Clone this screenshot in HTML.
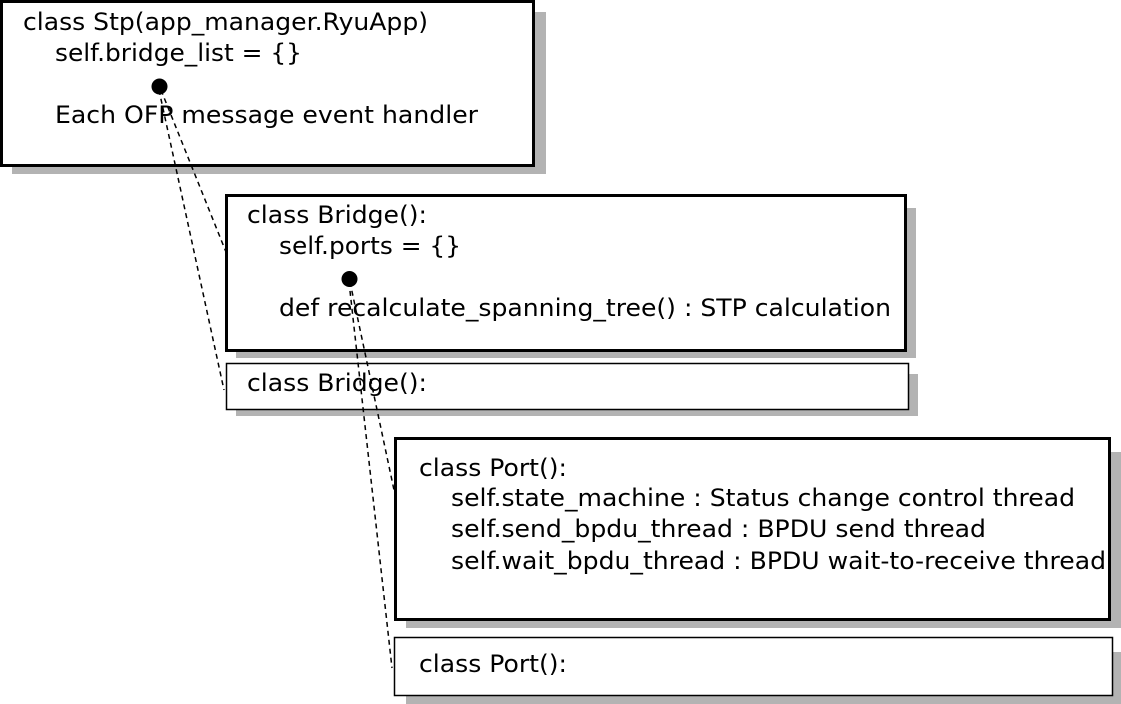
<!DOCTYPE html>
<html><head><meta charset="utf-8"><style>
html,body{margin:0;padding:0;background:#fff;}
svg{display:block;}
text{font-family:"DejaVu Sans","Liberation Sans",sans-serif;font-size:24px;fill:#000;}
</style></head><body>
<svg width="1121" height="704" viewBox="0 0 1121 704">
<rect width="1121" height="704" fill="#fff"/>
<rect x="12" y="12" width="534" height="162" fill="#b3b3b3"/>
<rect x="236" y="208" width="680" height="150" fill="#b3b3b3"/>
<rect x="236" y="374" width="682" height="42" fill="#b3b3b3"/>
<rect x="406" y="452" width="715" height="176" fill="#b3b3b3"/>
<rect x="406" y="652" width="715" height="52" fill="#b3b3b3"/>
<rect x="1.5" y="1.5" width="532" height="164" fill="#fff" stroke="#000" stroke-width="3"/>
<rect x="226.5" y="195.5" width="679" height="155" fill="#fff" stroke="#000" stroke-width="3"/>
<rect x="226.5" y="363.5" width="682" height="46" fill="#fff" stroke="#000" stroke-width="1.5"/>
<rect x="395.5" y="438.5" width="714" height="181" fill="#fff" stroke="#000" stroke-width="3"/>
<rect x="394.5" y="637.5" width="718" height="58" fill="#fff" stroke="#000" stroke-width="1.5"/>
<g>
<text x="23" y="30" textLength="405" lengthAdjust="spacingAndGlyphs">class Stp(app_manager.RyuApp)</text>
<text x="55" y="61" textLength="247" lengthAdjust="spacingAndGlyphs">self.bridge_list = {}</text>
<text x="55" y="123" textLength="423" lengthAdjust="spacingAndGlyphs">Each OFP message event handler</text>
<text x="247" y="223" textLength="180" lengthAdjust="spacingAndGlyphs">class Bridge():</text>
<text x="279" y="254" textLength="182" lengthAdjust="spacingAndGlyphs">self.ports = {}</text>
<text x="279" y="316" textLength="612" lengthAdjust="spacingAndGlyphs">def recalculate_spanning_tree() : STP calculation</text>
<text x="247" y="391" textLength="180" lengthAdjust="spacingAndGlyphs">class Bridge():</text>
<text x="419" y="476" textLength="148" lengthAdjust="spacingAndGlyphs">class Port():</text>
<text x="451" y="506" textLength="624" lengthAdjust="spacingAndGlyphs">self.state_machine : Status change control thread</text>
<text x="451" y="537" textLength="535" lengthAdjust="spacingAndGlyphs">self.send_bpdu_thread : BPDU send thread</text>
<text x="451" y="569" textLength="655" lengthAdjust="spacingAndGlyphs">self.wait_bpdu_thread : BPDU wait-to-receive thread</text>
<text x="419" y="672" textLength="148" lengthAdjust="spacingAndGlyphs">class Port():</text>
</g>
<g stroke="#000" stroke-width="1.5" stroke-dasharray="5,4" fill="none">
<line x1="161" y1="90" x2="226" y2="252"/>
<line x1="159" y1="90" x2="224" y2="390"/>
<line x1="350" y1="282" x2="394" y2="490"/>
<line x1="349" y1="282" x2="392" y2="668"/>
</g>
<circle cx="159.5" cy="86.5" r="8" fill="#000"/>
<circle cx="349.5" cy="279" r="8" fill="#000"/>
</svg>
</body></html>
